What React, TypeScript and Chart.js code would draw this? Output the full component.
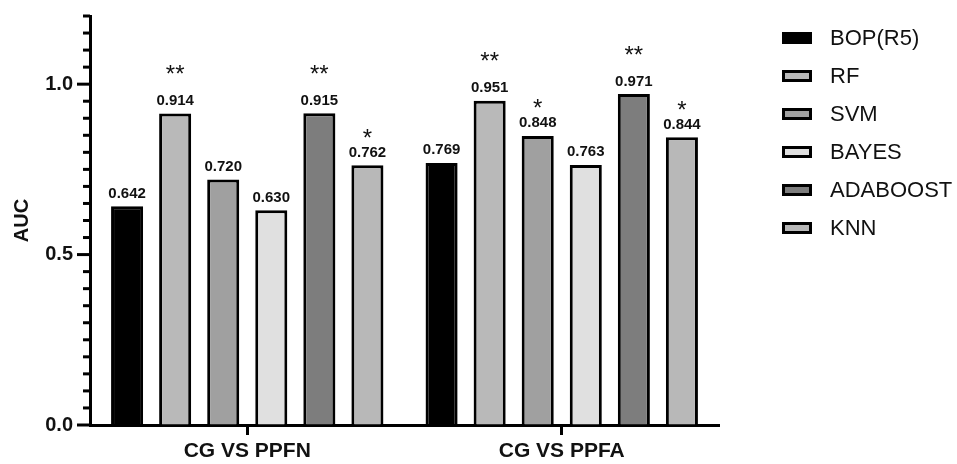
import React, { useEffect, useRef } from 'react';
import { Chart, registerables } from 'chart.js';

Chart.register(...registerables);

const categories = ['CG VS PPFN', 'CG VS PPFA'];
const seriesNames = ['BOP(R5)', 'RF', 'SVM', 'BAYES', 'ADABOOST', 'KNN'];
const bopValues = [0.642, 0.769];
const rfValues = [0.914, 0.951];
const svmValues = [0.72, 0.848];
const bayesValues = [0.63, 0.763];
const adaboostValues = [0.915, 0.971];
const knnValues = [0.762, 0.844];
const bopSig = ['', ''];
const rfSig = ['**', '**'];
const svmSig = ['', '*'];
const bayesSig = ['', ''];
const adaboostSig = ['**', '**'];
const knnSig = ['*', '*'];
const yTickLabels = ['0.0', '0.5', '1.0'];
const fillColors = ['#000000', '#b9b9b9', '#a0a0a0', '#e0e0e0', '#7d7d7d', '#b8b8b8'];

const allValues = [bopValues, rfValues, svmValues, bayesValues, adaboostValues, knnValues];
const allSig = [bopSig, rfSig, svmSig, bayesSig, adaboostSig, knnSig];

const FONT = "Arial, 'Liberation Sans', Helvetica, sans-serif";

const overlayPlugin = {
  id: 'overlay',
  afterDraw(chart: any) {
    const ctx = chart.ctx;
    const yScale = chart.scales.y;
    const area = chart.chartArea;
    ctx.save();
    // y-axis ticks
    ctx.strokeStyle = '#000';
    ctx.lineWidth = 3;
    yScale.ticks.forEach((t: any) => {
      const py = yScale.getPixelForValue(t.value);
      const major = yTickLabels.includes(Number(t.value).toFixed(1)) && Math.abs(t.value * 2 - Math.round(t.value * 2)) < 1e-6;
      const len = major ? 13 : 7;
      ctx.beginPath();
      ctx.moveTo(area.left - len, py);
      ctx.lineTo(area.left, py);
      ctx.stroke();
    });
    // value labels + significance
    ctx.fillStyle = '#111';
    ctx.textAlign = 'center';
    ctx.textBaseline = 'alphabetic';
    chart.data.datasets.forEach((ds: any, i: number) => {
      const meta = chart.getDatasetMeta(i);
      meta.data.forEach((el: any, j: number) => {
        const v = ds.data[j];
        ctx.font = `bold 15px ${FONT}`;
        ctx.fillText(v.toFixed(3), el.x, el.y - 8.5);
        const sig = allSig[i][j];
        if (sig) {
          ctx.font = `24px ${FONT}`;
          const c = el.y - (sig.length === 2 ? 45 : 33);
          ctx.fillText(sig, el.x, c + 13.5);
        }
      });
    });
    // legend
    seriesNames.forEach((name, i) => {
      const cy = 38 + i * 38;
      const bx = 782, bw = 30, bh = 12;
      ctx.fillStyle = fillColors[i];
      ctx.fillRect(bx, cy - bh / 2, bw, bh);
      ctx.strokeStyle = '#000';
      ctx.lineWidth = 3;
      ctx.strokeRect(bx + 1.5, cy - bh / 2 + 1.5, bw - 3, bh - 3);
      ctx.fillStyle = '#111';
      ctx.font = `22px ${FONT}`;
      ctx.textAlign = 'left';
      ctx.textBaseline = 'middle';
      ctx.fillText(name, 830, cy + 1);
    });
    ctx.restore();
  },
};

export default function App() {
  const ref = useRef<HTMLCanvasElement | null>(null);
  useEffect(() => {
    if (!ref.current) return;
    const chart = new Chart(ref.current, {
      type: 'bar',
      data: {
        labels: categories,
        datasets: seriesNames.map((name, i) => ({
          label: name,
          data: allValues[i],
          backgroundColor: fillColors[i],
          borderColor: '#000',
          borderWidth: 3,
          barPercentage: 0.667,
          categoryPercentage: 0.917,
        })),
      },
      options: {
        responsive: false,
        animation: false,
        maintainAspectRatio: false,
        layout: { padding: { left: 0, right: 238, top: 14, bottom: 0 } },
        plugins: {
          legend: { display: false },
          tooltip: { enabled: false },
        },
        scales: {
          x: {
            offset: true,
            afterFit(scale: any) {
              scale.height = 39;
            },
            grid: {
              offset: false,
              drawOnChartArea: false,
              drawTicks: true,
              tickLength: 10,
              tickWidth: 3,
              tickColor: '#000',
            },
            border: { display: true, color: '#000', width: 3 },
            ticks: {
              color: '#111',
              padding: 4,
              font: { family: FONT, size: 21, weight: 'bold' },
            },
          },
          y: {
            min: 0,
            max: 1.2,
            afterFit(scale: any) {
              scale.width = 90;
            },
            title: {
              display: true,
              text: 'AUC',
              color: '#111',
              font: { family: FONT, size: 20, weight: 'bold' },
              padding: { top: 10, bottom: 0 },
            },
            grid: {
              drawOnChartArea: false,
              drawTicks: true,
              tickLength: 13,
              tickColor: 'rgba(0,0,0,0)',
            },
            border: { display: true, color: '#000', width: 3 },
            ticks: {
              stepSize: 0.05,
              autoSkip: false,
              padding: 4,
              color: '#111',
              font: { family: FONT, size: 20, weight: 'bold' },
              callback(value: any) {
                const s = Number(value).toFixed(1);
                const isHalf = Math.abs(Number(value) * 2 - Math.round(Number(value) * 2)) < 1e-6;
                return isHalf && yTickLabels.includes(s) ? s : '';
              },
            },
          },
        },
      },
      plugins: [overlayPlugin],
    });
    return () => chart.destroy();
  }, []);
  return (
    <div style={{ position: 'fixed', left: 0, top: 0, width: 957, height: 464, background: '#fff' }}>
      <canvas ref={ref} width={957} height={464} style={{ width: 957, height: 464 }} />
    </div>
  );
}
